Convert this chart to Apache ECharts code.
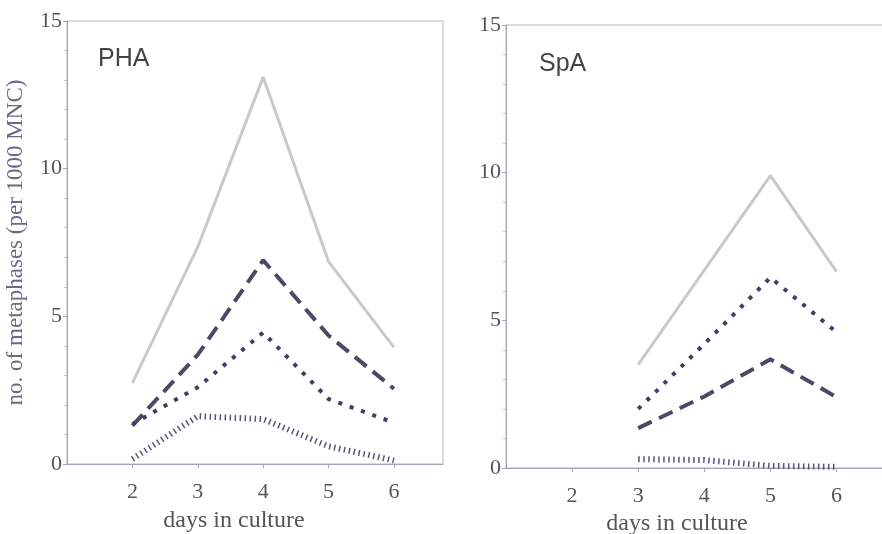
<!DOCTYPE html>
<html>
<head>
<meta charset="utf-8">
<script src="https://cdn.jsdelivr.net/npm/echarts@6/dist/echarts.min.js"></script>
<style>
    html, body { margin: 0; padding: 0; background: #fff; }
    #chart { width: 882px; height: 534px; }
</style>
</head>
<body>
<div id="chart"></div>
<script>
// days on the x axis
var phaDays = [2, 3, 4, 5, 6]
var spaDays = [3, 4, 5, 6]
var dayTicks = [2, 3, 4, 5, 6]

// PHA panel
var phaSolid = [2.75, 7.35, 13.1, 6.85, 3.95]
var phaDashed = [1.3, 3.7, 6.9, 4.35, 2.55]
var phaDots = [1.35, 2.6, 4.45, 2.2, 1.4]
var phaFine = [0.17, 1.62, 1.52, 0.6, 0.12]

// SpA panel
var spaSolid = [3.5, 6.7, 9.9, 6.65]
var spaDots = [2.0, 4.2, 6.45, 4.6]
var spaDashed = [1.35, 2.42, 3.68, 2.4]
var spaFine = [0.3, 0.27, 0.07, 0.04]

var serif = '"Liberation Serif", "DejaVu Serif", serif'
var axisGray = '#a4a4b2'

var pairs = function(xs, ys) {
    return xs.map(function(x, i) { return [x, ys[i]] })
}

var xAxisFor = function(idx) {
    return {
        type: 'value',
        gridIndex: idx,
        min: 1,
        max: idx === 0 ? 6.75 : 6.9,
        interval: 1,
        name: 'days in culture',
        nameLocation: 'middle',
        nameGap: idx === 0 ? 45 : 44,
        nameTextStyle: {
            fontFamily: serif,
            fontSize: 24,
            color: '#555',
            padding: [0, idx === 0 ? 42 : 48, 0, 0],
        },
        axisLine: { lineStyle: { color: axisGray, width: 1 } },
        axisTick: { customValues: dayTicks, length: 4, inside: false, lineStyle: { color: axisGray } },
        axisLabel: { customValues: dayTicks, fontFamily: serif, fontSize: 22, color: '#555', margin: 17 },
        splitLine: { show: false },
    }
}

var yAxisFor = function(idx) {
    return {
        type: 'value',
        gridIndex: idx,
        min: 0,
        max: 15,
        interval: 5,
        name: idx === 0 ? 'no. of metaphases (per 1000 MNC)' : '',
        nameLocation: 'middle',
        nameGap: 40,
        nameTextStyle: { fontFamily: serif, fontSize: 23, color: '#6a6a88' },
        axisLine: { lineStyle: { color: axisGray, width: 1 } },
        axisTick: { length: 4, lineStyle: { color: axisGray } },
        minorTick: { show: true, splitNumber: 5, length: 3, lineStyle: { color: '#c4c4cc' } },
        axisLabel: { fontFamily: serif, fontSize: 22, color: '#555', margin: 5 },
        splitLine: { show: false },
    }
}

var styles = {
    solid: { color: '#c9c9c9', width: 3, type: 'solid' },
    dashed: { color: '#4a4a66', width: 4, type: [15, 8] },
    dots: { color: '#3e3e66', width: 4, type: [4, 8] },
    fine: { color: '#55557a', width: 6, type: [1.5, 3.5] },
}

var mkSeries = function(idx, xs, ys, kind) {
    return {
        type: 'line',
        xAxisIndex: idx,
        yAxisIndex: idx,
        data: pairs(xs, ys),
        showSymbol: false,
        symbol: 'none',
        lineStyle: styles[kind],
        silent: true,
        z: kind === 'solid' ? 1 : 2,
    }
}

var chart = echarts.init(document.getElementById('chart'))
var option = {
    animation: false,
    backgroundColor: '#fff',
    title: [
        { text: 'PHA', left: 93, top: 42, textStyle: { fontFamily: '"Liberation Sans", Arial, sans-serif', fontSize: 25, fontWeight: 'normal', color: '#444' } },
        { text: 'SpA', left: 534, top: 47, textStyle: { fontFamily: '"Liberation Sans", Arial, sans-serif', fontSize: 25, fontWeight: 'normal', color: '#444' } },
    ],
    grid: [
        { left: 67, top: 21, width: 376, height: 443, show: true, borderColor: '#b4b4c0', borderWidth: 1, outerBoundsMode: 'none' },
        { left: 506, top: 25, width: 390, height: 443, show: true, borderColor: '#b4b4c0', borderWidth: 1, outerBoundsMode: 'none' },
    ],
    xAxis: [xAxisFor(0), xAxisFor(1)],
    yAxis: [yAxisFor(0), yAxisFor(1)],
    series: [
        mkSeries(0, phaDays, phaSolid, 'solid'),
        mkSeries(0, phaDays, phaDashed, 'dashed'),
        mkSeries(0, phaDays, phaDots, 'dots'),
        mkSeries(0, phaDays, phaFine, 'fine'),
        mkSeries(1, spaDays, spaSolid, 'solid'),
        mkSeries(1, spaDays, spaDots, 'dots'),
        mkSeries(1, spaDays, spaDashed, 'dashed'),
        mkSeries(1, spaDays, spaFine, 'fine'),
    ],
}
chart.setOption(option)
</script>
</body>
</html>
